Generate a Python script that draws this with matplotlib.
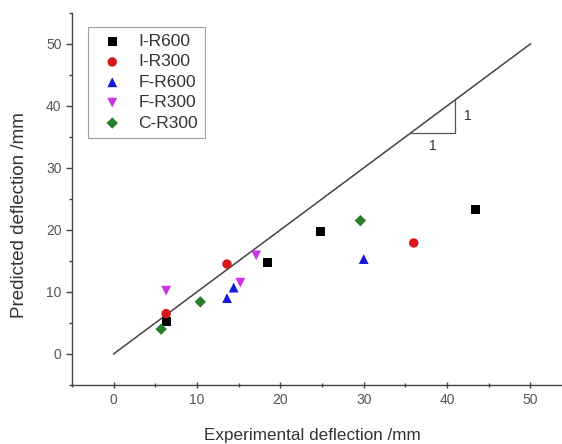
import matplotlib.pyplot as plt
from matplotlib.ticker import MultipleLocator

plt.rcParams['font.family'] = ['Liberation Sans', 'DejaVu Sans']

# Данные: экспериментальный / расчетный прогиб, мм
series_names = ['I-R600', 'I-R300', 'F-R600', 'F-R300', 'C-R300']
i_r600_x = [6.3, 18.4, 24.8, 43.4]
i_r600_y = [5.2, 14.7, 19.7, 23.3]
i_r300_x = [6.3, 13.6, 36.0]
i_r300_y = [6.5, 14.5, 17.9]
f_r600_x = [13.6, 14.4, 30.0]
f_r600_y = [9.0, 10.7, 15.3]
f_r300_x = [6.3, 15.2, 17.1]
f_r300_y = [10.2, 11.5, 15.9]
c_r300_x = [5.7, 10.4, 29.6]
c_r300_y = [4.0, 8.4, 21.5]

line_x = [0, 50]
line_y = [0, 50]

xs = [i_r600_x, i_r300_x, f_r600_x, f_r300_x, c_r300_x]
ys = [i_r600_y, i_r300_y, f_r600_y, f_r300_y, c_r300_y]
markers = ['s', 'o', '^', 'v', 'D']
colors = ['black', '#d81818', '#1818d8', '#cc33e6', '#2a802a']
sizes = [42, 46, 50, 50, 34]

fig = plt.figure(figsize=(5.62, 4.44), dpi=100)
ax = fig.add_axes([0.128, 0.133, 0.89, 0.838])

ax.plot(line_x, line_y, color='#444444', linewidth=1.1)

for x, y, m, c, s, name in zip(xs, ys, markers, colors, sizes, series_names):
    ax.scatter(x, y, marker=m, c=c, s=s, edgecolors='none', label=name, zorder=3)

# Треугольник наклона 1:1
ax.plot([35.6, 41, 41], [35.6, 35.6, 41], color='#555555', linewidth=0.9)
ax.text(42.0, 38.3, '1', fontsize=10, color='#333333', ha='left', va='center')
ax.text(38.3, 33.6, '1', fontsize=10, color='#333333', ha='center', va='center')

ax.set_xlim(-5, 55)
ax.set_ylim(-5, 55)
ax.xaxis.set_minor_locator(MultipleLocator(5))
ax.yaxis.set_minor_locator(MultipleLocator(5))
ax.set_xticks([0, 10, 20, 30, 40, 50])
ax.set_yticks([0, 10, 20, 30, 40, 50])

for side in ['top', 'right']:
    ax.spines[side].set_visible(False)
for side in ['left', 'bottom']:
    ax.spines[side].set_color('#444444')
    ax.spines[side].set_linewidth(1.0)

ax.tick_params(which='major', direction='out', length=4, width=1, colors='#444444',
               labelsize=10, labelcolor='#555555')
ax.tick_params(which='minor', direction='out', length=2.5, width=1, colors='#444444')
ax.tick_params(axis='x', which='both', direction='inout')

ax.set_xlabel('Experimental deflection /mm', fontsize=12.3, color='#333333')
ax.set_ylabel('Predicted deflection /mm', fontsize=13.5, color='#333333')
ax.xaxis.set_label_coords(0.48, -0.115)
ax.yaxis.set_label_coords(-0.088, 0.457)

leg = ax.legend(loc='upper left', bbox_to_anchor=(0.032, 0.962), fontsize=12.5,
                frameon=True, fancybox=False, edgecolor='#888888',
                handlelength=2.0, handletextpad=0.5, labelspacing=0.3,
                borderpad=0.4, borderaxespad=0, scatterpoints=1, markerscale=1.0)
leg.get_frame().set_linewidth(0.8)
for t in leg.get_texts():
    t.set_color('#333333')

fig.savefig('out.png', dpi=100)
